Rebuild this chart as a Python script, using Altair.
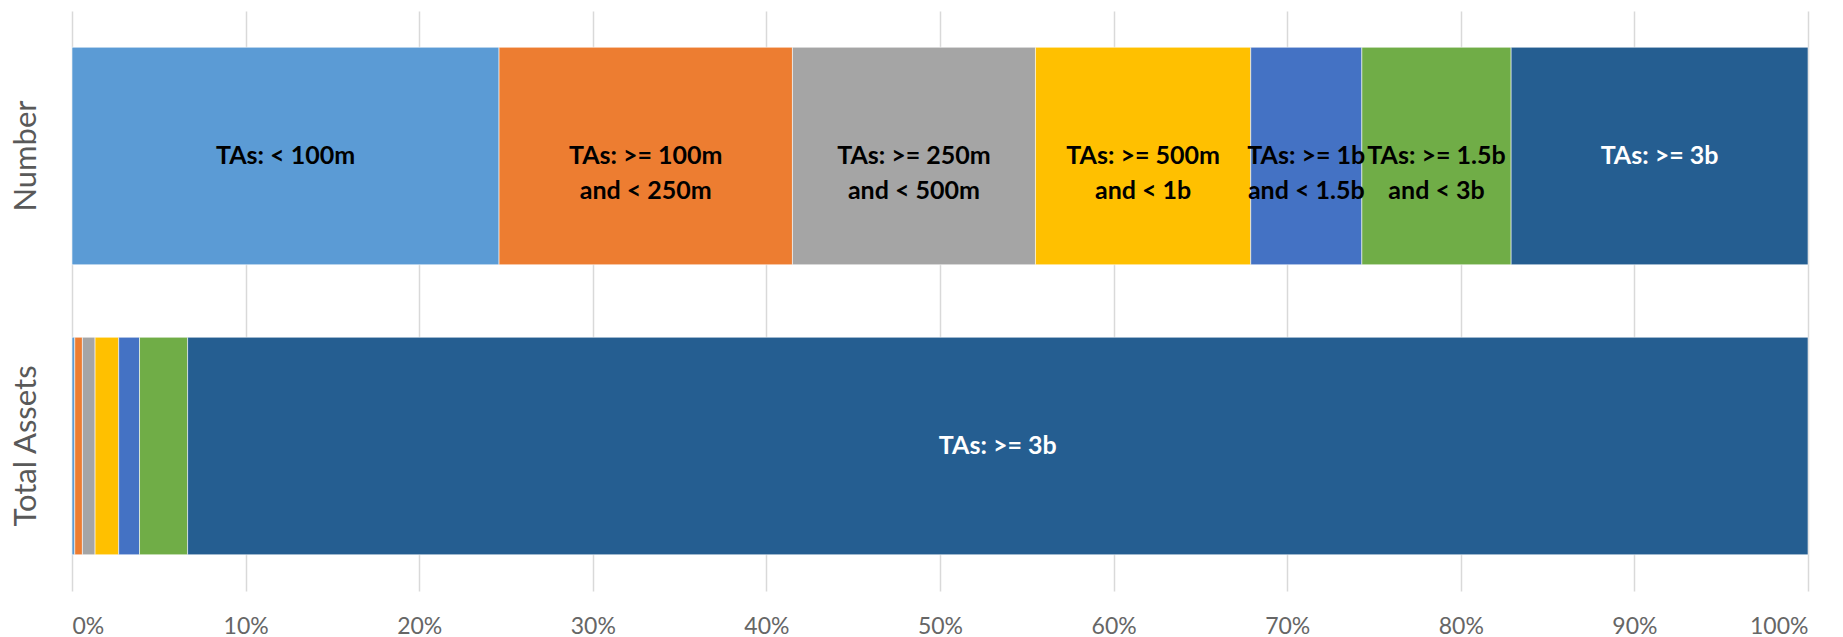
import altair as alt
import pandas as pd

categories = [
    "TAs: < 100m",
    "TAs: >= 100m and < 250m",
    "TAs: >= 250m and < 500m",
    "TAs: >= 500m and < 1b",
    "TAs: >= 1b and < 1.5b",
    "TAs: >= 1.5b and < 3b",
    "TAs: >= 3b",
]
rows = ["Number", "Total Assets"]
number_pct = [24.6, 16.9, 14.0, 12.4, 6.4, 8.6, 17.1]
assets_pct = [0.16, 0.44, 0.73, 1.36, 1.20, 2.77, 93.34]
number_labels = [
    "TAs: < 100m",
    "TAs: >= 100m\nand < 250m",
    "TAs: >= 250m\nand < 500m",
    "TAs: >= 500m\nand < 1b",
    "TAs: >= 1b\nand < 1.5b",
    "TAs: >= 1.5b\nand < 3b",
    "TAs: >= 3b",
]
assets_labels = ["", "", "", "", "", "", "TAs: >= 3b"]
x_ticks = [0, 10, 20, 30, 40, 50, 60, 70, 80, 90, 100]

colors = ["#5B9BD5", "#ED7D31", "#A5A5A5", "#FFC000", "#4472C4", "#70AD47", "#255E91"]

recs = []
for row, vals, labs in [(rows[0], number_pct, number_labels), (rows[1], assets_pct, assets_labels)]:
    for i, (c, v, l) in enumerate(zip(categories, vals, labs)):
        recs.append({"row": row, "cat": c, "idx": i, "value": v, "label": l})
df = pd.DataFrame(recs)

base = alt.Chart(df)

y_enc = alt.Y(
    "row:N",
    sort=rows,
    title=None,
    scale=alt.Scale(paddingInner=0.25, paddingOuter=0.125),
    axis=alt.Axis(
        labelAngle=-90, labelAlign="center", labelBaseline="middle",
        labelPadding=46, labelFontSize=31, labelColor="#595959",
        labelFont="Lato", domain=False, ticks=False, grid=False,
    ),
)

bars = base.mark_bar(stroke="white", strokeWidth=0.8, strokeOpacity=0.7).encode(
    x=alt.X(
        "value:Q", stack="zero",
        scale=alt.Scale(domain=[0, 100], nice=False),
        title=None,
        axis=alt.Axis(
            values=x_ticks, labelExpr="datum.value + '%'",
            labelFontSize=23, labelColor="#666666", labelFont="Lato",
            labelPadding=24, domain=False, ticks=False,
            grid=True, gridColor="#D9D9D9", gridWidth=1.5,
        ),
    ),
    y=y_enc,
    color=alt.Color("cat:N", sort=categories,
                    scale=alt.Scale(domain=categories, range=colors), legend=None),
    order=alt.Order("idx:Q"),
)

texts = base.transform_stack(
    stack="value", groupby=["row"], as_=["x0", "x1"], sort=[alt.SortField("idx")]
).transform_calculate(
    mid="(datum.x0 + datum.x1) / 2"
).transform_filter(
    "datum.label != ''"
).mark_text(
    font="Lato", fontSize=25, fontWeight="bold", lineBreak="\n",
    lineHeight=35, align="center", baseline="middle",
).encode(
    x=alt.X("mid:Q"),
    y=alt.Y("row:N", sort=rows),
    text="label:N",
    color=alt.condition("datum.idx == 6", alt.value("white"), alt.value("black")),
)

chart = alt.layer(bars, texts).properties(
    width=1736, height=580,
    autosize=alt.AutoSizeParams(type="none"),
    padding={"left": 72, "top": 11, "right": 35, "bottom": 46},
    background="white",
).configure_view(stroke=None)

chart.save("out.html", embed_options={"renderer": "svg", "actions": False})
